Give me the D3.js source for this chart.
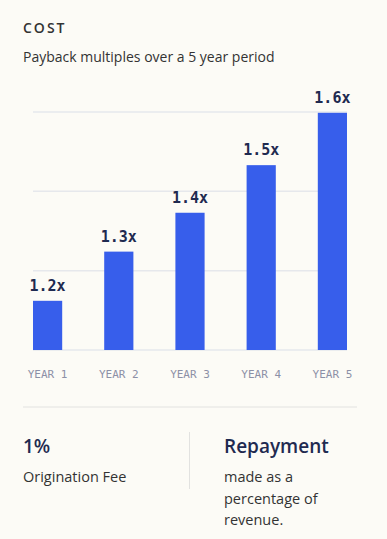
<!DOCTYPE html>
<html>
<head>
<meta charset="utf-8">
<script src="https://cdn.jsdelivr.net/npm/d3@7"></script>
<style>
  body { margin: 0; background: #fcfbf6; }
  svg { display: block; }
</style>
</head>
<body>
<div id="chart"></div>
<script>
// data
var years = ["YEAR 1", "YEAR 2", "YEAR 3", "YEAR 4", "YEAR 5"];
var multiples = ["1.2x", "1.3x", "1.4x", "1.5x", "1.6x"];
// bar heights, in grid units (gridlines at 0,1,2,3)
var barValues = [0.62, 1.24, 1.73, 2.33, 2.99];
var gridTicks = [0, 1, 2, 3];

var width = 387, height = 539;
var sans = "'Open Sans', 'Noto Sans', sans-serif";
var mono = "'DejaVu Sans Mono', 'Liberation Mono', monospace";

var svg = d3.select("#chart")
  .append("svg")
  .attr("width", width)
  .attr("height", height);

svg.append("rect")
  .attr("width", width)
  .attr("height", height)
  .attr("fill", "#fcfbf6");

// header
svg.append("text")
  .attr("x", 23)
  .attr("y", 33)
  .attr("font-family", sans)
  .attr("font-size", 14)
  .attr("font-weight", 600)
  .attr("letter-spacing", 2)
  .attr("fill", "#333")
  .text("COST");

svg.append("text")
  .attr("x", 23)
  .attr("y", 62)
  .attr("font-family", sans)
  .attr("font-size", 14)
  .attr("fill", "#333")
  .text("Payback multiples over a 5 year period");

// scales
var x = d3.scaleBand()
  .domain(years)
  .range([33, 347])
  .paddingInner(0.59)
  .paddingOuter(0);

var y = d3.scaleLinear()
  .domain([0, 3])
  .range([350, 112]);

// gridlines
svg.append("g")
  .selectAll("line")
  .data(gridTicks)
  .enter().append("line")
  .attr("x1", 33)
  .attr("x2", 347)
  .attr("y1", function (d) { return y(d); })
  .attr("y2", function (d) { return y(d); })
  .attr("stroke", "#e6e8ec")
  .attr("stroke-width", 1.5);

// bars
svg.append("g")
  .selectAll("rect")
  .data(barValues)
  .enter().append("rect")
  .attr("x", function (d, i) { return x(years[i]); })
  .attr("y", function (d) { return y(d); })
  .attr("width", x.bandwidth())
  .attr("height", function (d) { return y(0) - y(d); })
  .attr("fill", "#375eeb");

// value labels
svg.append("g")
  .selectAll("text")
  .data(barValues)
  .enter().append("text")
  .attr("x", function (d, i) { return x(years[i]) + x.bandwidth() / 2; })
  .attr("y", function (d) { return y(d) - 10; })
  .attr("text-anchor", "middle")
  .attr("font-family", mono)
  .attr("font-size", 15)
  .attr("font-weight", "bold")
  .attr("fill", "#1f2a50")
  .text(function (d, i) { return multiples[i]; });

// x axis
var xAxis = svg.append("g")
  .attr("transform", "translate(0,350)")
  .call(d3.axisBottom(x).tickSize(0).tickPadding(20));
xAxis.select(".domain").remove();
xAxis.selectAll("text")
  .attr("font-family", mono)
  .attr("font-size", 11)
  .attr("fill", "#8c90a6");

// footer
svg.append("line")
  .attr("x1", 23).attr("x2", 357)
  .attr("y1", 407).attr("y2", 407)
  .attr("stroke", "#e2e2e0");

svg.append("line")
  .attr("x1", 189.5).attr("x2", 189.5)
  .attr("y1", 432).attr("y2", 489)
  .attr("stroke", "#e2e2e0");

svg.append("text")
  .attr("x", 23).attr("y", 453)
  .attr("font-family", sans)
  .attr("font-size", 19)
  .attr("font-weight", 600)
  .attr("fill", "#1f2a50")
  .text("1%");

svg.append("text")
  .attr("x", 23).attr("y", 482)
  .attr("font-family", sans)
  .attr("font-size", 14.5)
  .attr("fill", "#333")
  .text("Origination Fee");

svg.append("text")
  .attr("x", 224).attr("y", 453)
  .attr("font-family", sans)
  .attr("font-size", 19)
  .attr("font-weight", 600)
  .attr("fill", "#1f2a50")
  .text("Repayment");

var lines = ["made as a", "percentage of", "revenue."];
svg.append("g")
  .selectAll("text")
  .data(lines)
  .enter().append("text")
  .attr("x", 224)
  .attr("y", function (d, i) { return 482 + i * 21.5; })
  .attr("font-family", sans)
  .attr("font-size", 14.5)
  .attr("fill", "#333")
  .text(function (d) { return d; });
</script>
</body>
</html>
